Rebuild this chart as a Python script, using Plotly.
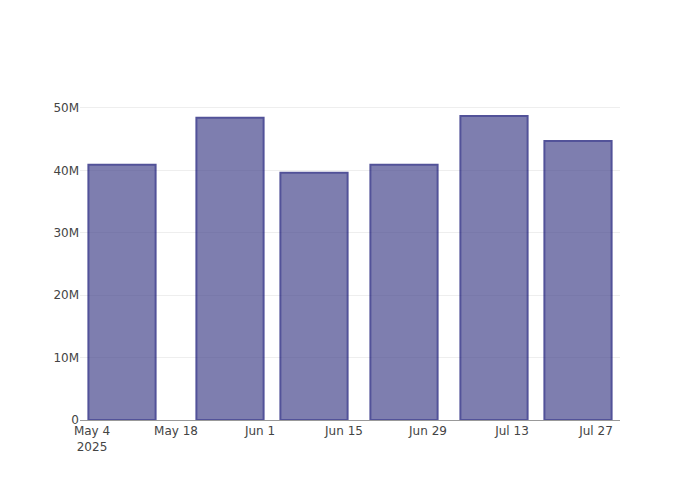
import plotly.graph_objects as go

dates = ["2025-05-09", "2025-05-27", "2025-06-10", "2025-06-25", "2025-07-10", "2025-07-24"]
values = [40.9e6, 48.4e6, 39.6e6, 40.9e6, 48.7e6, 44.7e6]

fig = go.Figure(go.Bar(
    x=dates, y=values,
    marker=dict(color="rgb(72,72,142)", opacity=0.7,
                line=dict(color="rgb(10,10,110)", width=2)),
))
fig.update_layout(
    width=700, height=500,
    plot_bgcolor="white", paper_bgcolor="white",
    font=dict(family="DejaVu Sans", size=12, color="#444"),
    showlegend=False,
    margin=dict(l=80, r=80, t=100, b=80),
)
fig.update_xaxes(showline=True, linecolor="#999", linewidth=1, showgrid=False,
                 dtick=14 * 86400000, tick0="2025-05-04", tickformat="%b %-d\n%Y")
fig.update_yaxes(showgrid=True, gridcolor="#eee", zeroline=False, tickformat="~s",
                 dtick=10e6)
fig.write_html("out.html", config={"displayModeBar": False},
               post_script="document.body.style.margin='0';")
